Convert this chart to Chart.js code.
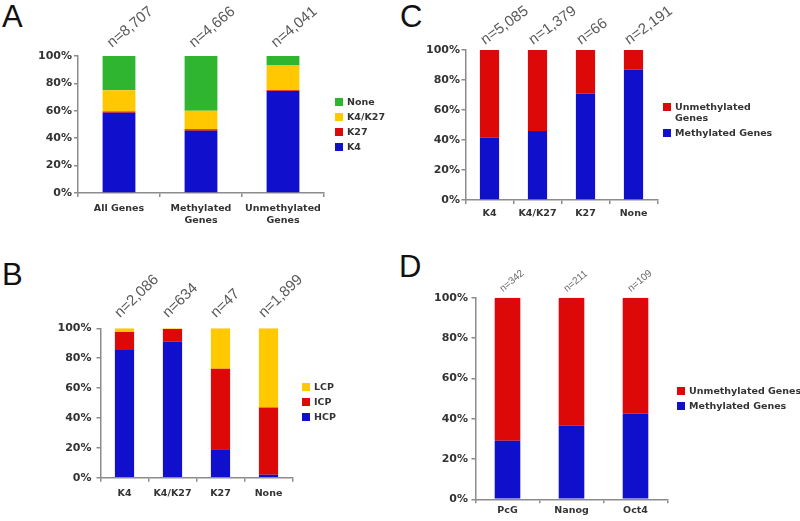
<!DOCTYPE html>
<html>
<head>
<meta charset="utf-8">
<script src="https://cdn.jsdelivr.net/npm/chart.js@4.4.1/dist/chart.umd.min.js"></script>
<style>
  body { margin: 0; background: #fff; width: 800px; height: 521px; position: relative; overflow: hidden; }
  canvas { position: absolute; }
  .letter { position: absolute; font: 31px/31px "Liberation Sans", Arial, sans-serif; color: #111; }
  .leg { position: absolute; font: bold 9.5px/11px "DejaVu Sans", sans-serif; color: #333; white-space: nowrap; }
  .leg i { position: absolute; left: 0; top: 2px; width: 8px; height: 8px; }
  .leg span { position: absolute; left: 12px; top: 0; }
</style>
</head>
<body>
<div class="letter" style="left:2px;top:1px">A</div>
<div class="letter" style="left:400px;top:1px">C</div>
<div class="letter" style="left:2px;top:259px">B</div>
<div class="letter" style="left:399px;top:251px">D</div>
<canvas id="chartA" width="400" height="250" style="left:0;top:0"></canvas>
<canvas id="chartC" width="400" height="250" style="left:400px;top:0"></canvas>
<canvas id="chartB" width="400" height="271" style="left:0;top:250px"></canvas>
<canvas id="chartD" width="400" height="271" style="left:400px;top:250px"></canvas>
<script>
const BLUE = '#1010cc', RED = '#dd0808', YELLOW = '#ffc800', GREEN = '#30b530';

// A: histone marks by methylation status (percent)
const aCategories = ['All Genes', ['Methylated', 'Genes'], ['Unmethylated', 'Genes']];
const aCounts = ['n=8,707', 'n=4,666', 'n=4,041'];
const aK4 = [58.5, 45.5, 74.5];
const aK27 = [1, 1, 0.5];
const aK4K27 = [15.5, 13.5, 18];
const aNone = [25, 40, 7];

// B: promoter class by histone mark
const bCategories = ['K4', 'K4/K27', 'K27', 'None'];
const bCounts = ['n=2,086', 'n=634', 'n=47', 'n=1,899'];
const bHCP = [85.5, 91, 19, 2];
const bICP = [12, 8.5, 54, 45];
const bLCP = [2.5, 0.5, 27, 53];

// C: methylation by histone mark
const cCategories = ['K4', 'K4/K27', 'K27', 'None'];
const cCounts = ['n=5,085', 'n=1,379', 'n=66', 'n=2,191'];
const cMethylated = [41.5, 46, 71, 87];
const cUnmethylated = [58.5, 54, 29, 13];

// D: methylation of PcG / Nanog / Oct4 targets
const dCategories = ['PcG', 'Nanog', 'Oct4'];
const dCounts = ['n=342', 'n=211', 'n=109'];
const dMethylated = [29, 36.5, 42.5];
const dUnmethylated = [71, 63.5, 57.5];

const yTicks = [0, 20, 40, 60, 80, 100];
const AXIS = '#8c8c8c';

function makePanel(id, p) {
  // rotated "n=..." labels above each bar
  const countLabels = {
    id: 'countLabels',
    afterDatasetsDraw(chart) {
      const { ctx, chartArea } = chart;
      const x = chart.scales.x;
      ctx.save();
      ctx.font = p.countFont;
      ctx.fillStyle = p.countColor;
      ctx.textAlign = 'left';
      ctx.textBaseline = 'alphabetic';
      p.counts.forEach((t, i) => {
        ctx.save();
        ctx.translate(x.getPixelForValue(i) + p.countDx, chartArea.top + p.countDy);
        ctx.rotate(p.countAngle * Math.PI / 180);
        ctx.fillText(t, 0, 0);
        ctx.restore();
      });
      ctx.restore();
    }
  };

  return new Chart(document.getElementById(id), {
    type: 'bar',
    data: {
      labels: p.labels,
      datasets: p.series.map(s => ({
        label: s.name, data: s.data, backgroundColor: s.color,
        borderWidth: 0, barPercentage: 0.4, categoryPercentage: 1,
      })),
    },
    options: {
      responsive: false,
      animation: false,
      layout: { padding: p.pad },
      scales: {
        x: {
          stacked: true,
          afterFit(s) { s.height = p.xh; },
          grid: { drawOnChartArea: false, tickLength: 4, color: AXIS, lineWidth: 1.5 },
          border: { color: AXIS, width: 1.5 },
          ticks: { color: '#333', padding: p.xPad, maxRotation: 0,
                   font: { family: 'DejaVu Sans', weight: 'bold', size: 9.5, lineHeight: 1.25 } },
        },
        y: {
          stacked: true, min: 0, max: 100,
          afterFit(s) { s.width = p.yw; },
          afterBuildTicks(s) { s.ticks = yTicks.map(v => ({ value: v })); },
          grid: { drawOnChartArea: false, tickLength: 4, color: AXIS, lineWidth: 1.5 },
          border: { color: AXIS, width: 1.5 },
          ticks: { color: '#333', padding: p.yPad, callback: v => v + '%',
                   font: { family: 'DejaVu Sans', weight: 'bold', size: 11 } },
        },
      },
      plugins: { legend: { display: false }, tooltip: { enabled: false } },
    },
    plugins: [countLabels],
  });
}

function makeLegend(items, left, tops) {
  items.forEach((it, i) => {
    const d = document.createElement('div');
    d.className = 'leg';
    d.style.left = left + 'px';
    d.style.top = tops[i] + 'px';
    d.innerHTML = '<i style="background:' + it.color + '"></i><span>' + it.name.join('<br>') + '</span>';
    document.body.appendChild(d);
  });
}

makePanel('chartA', {
  labels: aCategories, counts: aCounts,
  series: [
    { name: 'K4', data: aK4, color: BLUE },
    { name: 'K27', data: aK27, color: RED },
    { name: 'K4/K27', data: aK4K27, color: YELLOW },
    { name: 'None', data: aNone, color: GREEN },
  ],
  pad: { left: 0, right: 76, top: 56, bottom: 17 }, yw: 78, xh: 40, xPad: 6, yPad: 2,
  countFont: '15px "Liberation Sans"', countColor: '#5a5a5a', countDx: -7, countDy: -8, countAngle: -40,
});

makePanel('chartC', {
  labels: cCategories, counts: cCounts,
  series: [
    { name: 'Methylated Genes', data: cMethylated, color: BLUE },
    { name: 'Unmethylated Genes', data: cUnmethylated, color: RED },
  ],
  pad: { left: 0, right: 142.5, top: 50, bottom: 10 }, yw: 65.5, xh: 40, xPad: 3.5, yPad: 1.5,
  countFont: '15px "Liberation Sans"', countColor: '#5a5a5a', countDx: -4.5, countDy: -5, countAngle: -36,
});

makePanel('chartB', {
  labels: bCategories, counts: bCounts,
  series: [
    { name: 'HCP', data: bHCP, color: BLUE },
    { name: 'ICP', data: bICP, color: RED },
    { name: 'LCP', data: bLCP, color: YELLOW },
  ],
  pad: { left: 0, right: 107.5, top: 78.3, bottom: 3.3 }, yw: 100.5, xh: 40, xPad: 6, yPad: 5,
  countFont: '15px "Liberation Sans"', countColor: '#5a5a5a', countDx: -4.5, countDy: -10, countAngle: -44,
});

makePanel('chartD', {
  labels: dCategories, counts: dCounts,
  series: [
    { name: 'Methylated Genes', data: dMethylated, color: BLUE },
    { name: 'Unmethylated Genes', data: dUnmethylated, color: RED },
  ],
  pad: { left: 0, right: 132.5, top: 47.7, bottom: 1.7 }, yw: 75.5, xh: 20, xPad: 1, yPad: 3.5,
  countFont: '10px "Liberation Sans"', countColor: '#666', countDx: -4.5, countDy: -5.5, countAngle: -40,
});

makeLegend([
  { name: ['None'], color: GREEN },
  { name: ['K4/K27'], color: YELLOW },
  { name: ['K27'], color: RED },
  { name: ['K4'], color: BLUE },
], 335, [96, 111, 126, 141]);

makeLegend([
  { name: ['LCP'], color: YELLOW },
  { name: ['ICP'], color: RED },
  { name: ['HCP'], color: BLUE },
], 302, [381, 396, 411]);

makeLegend([
  { name: ['Unmethylated', 'Genes'], color: RED },
  { name: ['Methylated Genes'], color: BLUE },
], 663, [101, 127]);

makeLegend([
  { name: ['Unmethylated Genes'], color: RED },
  { name: ['Methylated Genes'], color: BLUE },
], 677, [385, 400]);
</script>
</body>
</html>
